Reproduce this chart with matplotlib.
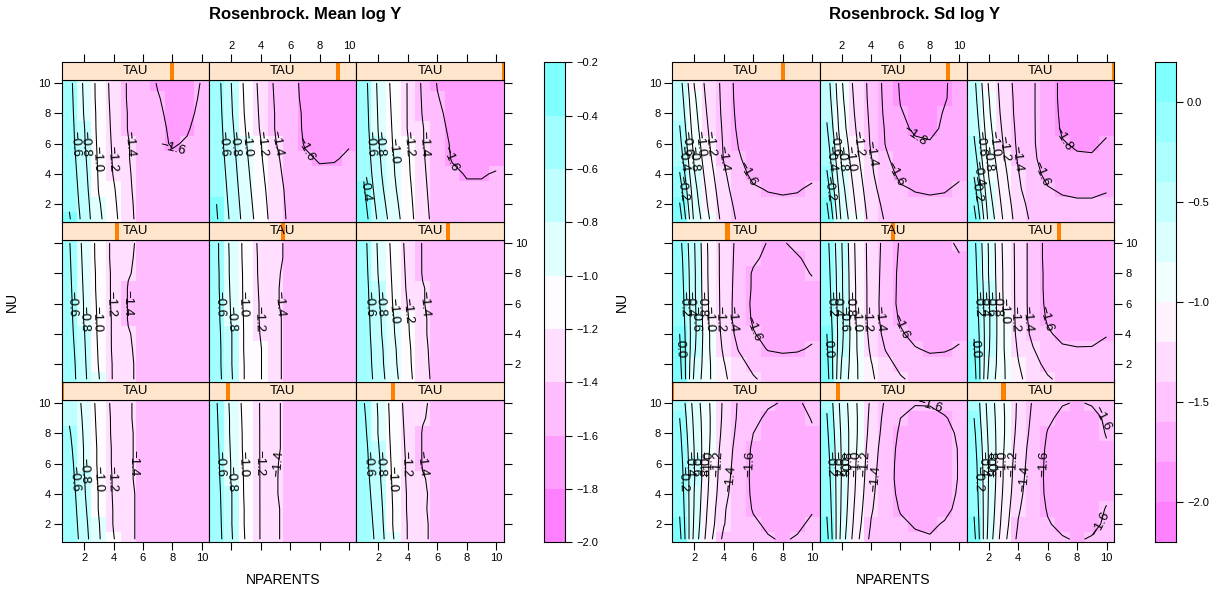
import numpy as np
import matplotlib
matplotlib.use("Agg")
import matplotlib.pyplot as plt
from matplotlib.colors import ListedColormap, BoundaryNorm
from matplotlib.patches import Rectangle

plt.rcParams['font.family'] = ['Liberation Sans', 'DejaVu Sans']
plt.rcParams['contour.negative_linestyle'] = 'solid'

# grid of the design
nparents = [1, 2, 3, 4, 5, 6, 7, 8, 9, 10]
nu = [1, 2, 3, 4, 5, 6, 7, 8, 9, 10]
# position of each TAU level inside its strip (panel order: bottom-left first)
tau_pos = [0.0, 0.125, 0.25, 0.375, 0.5, 0.625, 0.75, 0.875, 1.0]

mean_levels = [-2.0, -1.8, -1.6, -1.4, -1.2, -1.0, -0.8, -0.6, -0.4, -0.2]
sd_levels = [-2.2, -2.0, -1.8, -1.6, -1.4, -1.2, -1.0, -0.8, -0.6, -0.4, -0.2, 0.0, 0.2]
mean_cb_ticks = [-2.0, -1.8, -1.6, -1.4, -1.2, -1.0, -0.8, -0.6, -0.4, -0.2]
sd_cb_ticks = [-2.0, -1.5, -1.0, -0.5, 0.0]
axis_ticks = [2, 4, 6, 8, 10]

# tables: rows NU=10 (top) down to NU=1, columns NPARENTS 1..10
mean_tau1 = [
    [-0.66, -0.84, -1.06, -1.25, -1.38, -1.46, -1.50, -1.52, -1.53, -1.53],
    [-0.62, -0.83, -1.05, -1.24, -1.38, -1.46, -1.50, -1.52, -1.53, -1.53],
    [-0.58, -0.82, -1.04, -1.24, -1.37, -1.46, -1.50, -1.52, -1.53, -1.53],
    [-0.55, -0.81, -1.03, -1.23, -1.37, -1.46, -1.50, -1.52, -1.53, -1.53],
    [-0.52, -0.81, -1.03, -1.23, -1.37, -1.46, -1.50, -1.52, -1.53, -1.53],
    [-0.50, -0.79, -1.02, -1.22, -1.37, -1.46, -1.50, -1.52, -1.53, -1.53],
    [-0.47, -0.78, -1.01, -1.22, -1.36, -1.45, -1.50, -1.52, -1.53, -1.53],
    [-0.45, -0.76, -1.01, -1.21, -1.36, -1.45, -1.50, -1.52, -1.53, -1.53],
    [-0.43, -0.74, -0.99, -1.21, -1.36, -1.45, -1.50, -1.52, -1.53, -1.53],
    [-0.41, -0.72, -0.98, -1.19, -1.36, -1.45, -1.50, -1.52, -1.53, -1.53],
]
mean_tau2 = [
    [-0.59, -0.84, -1.08, -1.21, -1.38, -1.44, -1.48, -1.50, -1.51, -1.51],
    [-0.58, -0.83, -1.07, -1.21, -1.38, -1.44, -1.48, -1.50, -1.51, -1.51],
    [-0.57, -0.83, -1.06, -1.21, -1.38, -1.44, -1.48, -1.50, -1.51, -1.51],
    [-0.56, -0.82, -1.06, -1.21, -1.38, -1.44, -1.48, -1.50, -1.51, -1.51],
    [-0.55, -0.81, -1.05, -1.21, -1.39, -1.44, -1.48, -1.50, -1.51, -1.51],
    [-0.54, -0.81, -1.04, -1.21, -1.39, -1.45, -1.48, -1.50, -1.51, -1.51],
    [-0.53, -0.79, -1.04, -1.21, -1.39, -1.45, -1.48, -1.50, -1.51, -1.51],
    [-0.52, -0.79, -1.03, -1.21, -1.38, -1.45, -1.48, -1.50, -1.51, -1.51],
    [-0.51, -0.79, -1.03, -1.21, -1.38, -1.45, -1.48, -1.50, -1.51, -1.51],
    [-0.50, -0.78, -1.02, -1.21, -1.38, -1.45, -1.48, -1.50, -1.51, -1.51],
]
mean_tau3 = [
    [-0.59, -0.82, -1.08, -1.27, -1.38, -1.44, -1.47, -1.49, -1.50, -1.50],
    [-0.57, -0.81, -1.07, -1.26, -1.39, -1.44, -1.47, -1.49, -1.50, -1.50],
    [-0.55, -0.81, -1.06, -1.25, -1.41, -1.44, -1.47, -1.49, -1.50, -1.50],
    [-0.53, -0.79, -1.05, -1.24, -1.41, -1.44, -1.47, -1.49, -1.50, -1.50],
    [-0.52, -0.77, -1.04, -1.23, -1.41, -1.44, -1.47, -1.49, -1.50, -1.50],
    [-0.50, -0.76, -1.03, -1.23, -1.39, -1.44, -1.47, -1.49, -1.50, -1.50],
    [-0.48, -0.74, -1.02, -1.22, -1.38, -1.44, -1.47, -1.49, -1.50, -1.50],
    [-0.46, -0.72, -1.01, -1.22, -1.38, -1.45, -1.48, -1.50, -1.51, -1.51],
    [-0.44, -0.70, -1.01, -1.21, -1.37, -1.45, -1.48, -1.50, -1.51, -1.51],
    [-0.42, -0.68, -0.99, -1.21, -1.37, -1.45, -1.48, -1.50, -1.51, -1.51],
]
mean_tau4 = [
    [-0.59, -0.85, -1.06, -1.25, -1.37, -1.44, -1.47, -1.49, -1.50, -1.50],
    [-0.58, -0.84, -1.06, -1.25, -1.38, -1.44, -1.47, -1.49, -1.50, -1.50],
    [-0.57, -0.83, -1.05, -1.24, -1.39, -1.44, -1.47, -1.49, -1.50, -1.50],
    [-0.56, -0.82, -1.05, -1.24, -1.41, -1.44, -1.47, -1.49, -1.50, -1.50],
    [-0.55, -0.81, -1.04, -1.24, -1.41, -1.44, -1.47, -1.49, -1.50, -1.50],
    [-0.54, -0.81, -1.03, -1.23, -1.41, -1.44, -1.47, -1.49, -1.50, -1.50],
    [-0.53, -0.79, -1.03, -1.23, -1.39, -1.45, -1.48, -1.50, -1.51, -1.51],
    [-0.51, -0.78, -1.02, -1.23, -1.38, -1.45, -1.48, -1.50, -1.51, -1.51],
    [-0.49, -0.77, -1.01, -1.22, -1.37, -1.45, -1.48, -1.50, -1.51, -1.51],
    [-0.48, -0.76, -0.99, -1.22, -1.37, -1.45, -1.48, -1.50, -1.51, -1.51],
]
mean_tau5 = [
    [-0.56, -0.85, -1.06, -1.25, -1.38, -1.42, -1.46, -1.48, -1.49, -1.49],
    [-0.56, -0.84, -1.06, -1.24, -1.38, -1.42, -1.46, -1.48, -1.49, -1.49],
    [-0.55, -0.84, -1.05, -1.24, -1.39, -1.42, -1.46, -1.48, -1.49, -1.49],
    [-0.55, -0.83, -1.05, -1.23, -1.39, -1.43, -1.46, -1.48, -1.49, -1.49],
    [-0.54, -0.82, -1.05, -1.22, -1.39, -1.43, -1.46, -1.48, -1.49, -1.49],
    [-0.54, -0.81, -1.04, -1.22, -1.38, -1.43, -1.46, -1.48, -1.49, -1.49],
    [-0.53, -0.79, -1.04, -1.21, -1.38, -1.43, -1.46, -1.48, -1.49, -1.49],
    [-0.52, -0.79, -1.04, -1.19, -1.38, -1.43, -1.46, -1.48, -1.49, -1.49],
    [-0.52, -0.79, -1.03, -1.19, -1.38, -1.43, -1.46, -1.48, -1.49, -1.49],
    [-0.51, -0.78, -1.03, -1.19, -1.38, -1.43, -1.46, -1.48, -1.49, -1.49],
]
mean_tau6 = [
    [-0.54, -0.83, -1.05, -1.26, -1.41, -1.47, -1.50, -1.52, -1.53, -1.53],
    [-0.53, -0.82, -1.04, -1.25, -1.41, -1.47, -1.50, -1.52, -1.53, -1.53],
    [-0.52, -0.81, -1.03, -1.24, -1.41, -1.47, -1.50, -1.52, -1.53, -1.53],
    [-0.51, -0.79, -1.02, -1.23, -1.39, -1.46, -1.50, -1.52, -1.53, -1.53],
    [-0.50, -0.78, -1.01, -1.21, -1.39, -1.46, -1.49, -1.51, -1.52, -1.52],
    [-0.49, -0.76, -0.99, -1.19, -1.38, -1.45, -1.49, -1.51, -1.52, -1.52],
    [-0.48, -0.75, -0.98, -1.18, -1.38, -1.45, -1.49, -1.51, -1.52, -1.52],
    [-0.47, -0.73, -0.96, -1.16, -1.37, -1.45, -1.48, -1.50, -1.51, -1.51],
    [-0.46, -0.72, -0.95, -1.15, -1.37, -1.44, -1.48, -1.50, -1.51, -1.51],
    [-0.45, -0.70, -0.93, -1.13, -1.36, -1.44, -1.48, -1.50, -1.51, -1.51],
]
mean_tau7 = [
    [-0.54, -0.83, -1.06, -1.27, -1.42, -1.52, -1.61, -1.66, -1.67, -1.59],
    [-0.53, -0.82, -1.06, -1.26, -1.42, -1.52, -1.59, -1.65, -1.65, -1.58],
    [-0.52, -0.81, -1.05, -1.25, -1.41, -1.51, -1.58, -1.63, -1.63, -1.57],
    [-0.51, -0.79, -1.05, -1.24, -1.41, -1.51, -1.57, -1.62, -1.61, -1.56],
    [-0.50, -0.78, -1.04, -1.23, -1.39, -1.50, -1.57, -1.61, -1.59, -1.55],
    [-0.48, -0.76, -1.03, -1.22, -1.39, -1.50, -1.56, -1.58, -1.57, -1.55],
    [-0.46, -0.74, -1.02, -1.21, -1.38, -1.49, -1.55, -1.57, -1.56, -1.54],
    [-0.44, -0.72, -1.01, -1.18, -1.37, -1.49, -1.55, -1.56, -1.55, -1.54],
    [-0.42, -0.70, -0.98, -1.16, -1.36, -1.48, -1.54, -1.55, -1.55, -1.54],
    [-0.38, -0.68, -0.96, -1.14, -1.35, -1.48, -1.54, -1.55, -1.55, -1.54],
]
mean_tau8 = [
    [-0.52, -0.80, -1.05, -1.25, -1.43, -1.56, -1.63, -1.67, -1.68, -1.68],
    [-0.51, -0.79, -1.04, -1.24, -1.42, -1.55, -1.63, -1.67, -1.68, -1.68],
    [-0.50, -0.78, -1.03, -1.23, -1.41, -1.54, -1.62, -1.66, -1.67, -1.67],
    [-0.49, -0.76, -1.01, -1.22, -1.41, -1.53, -1.62, -1.65, -1.66, -1.65],
    [-0.48, -0.74, -0.99, -1.19, -1.39, -1.52, -1.61, -1.63, -1.63, -1.61],
    [-0.46, -0.72, -0.97, -1.18, -1.36, -1.50, -1.58, -1.61, -1.61, -1.58],
    [-0.44, -0.70, -0.95, -1.16, -1.34, -1.48, -1.56, -1.58, -1.57, -1.56],
    [-0.42, -0.68, -0.93, -1.14, -1.32, -1.46, -1.54, -1.56, -1.55, -1.54],
    [-0.40, -0.66, -0.91, -1.12, -1.31, -1.45, -1.53, -1.55, -1.54, -1.53],
    [-0.38, -0.64, -0.89, -1.10, -1.30, -1.44, -1.52, -1.54, -1.53, -1.52],
]
mean_tau9 = [
    [-0.52, -0.84, -1.05, -1.21, -1.43, -1.61, -1.68, -1.72, -1.73, -1.72],
    [-0.51, -0.83, -1.04, -1.21, -1.42, -1.59, -1.67, -1.71, -1.72, -1.71],
    [-0.50, -0.82, -1.03, -1.21, -1.41, -1.56, -1.66, -1.70, -1.71, -1.70],
    [-0.49, -0.81, -1.02, -1.21, -1.39, -1.54, -1.64, -1.69, -1.70, -1.69],
    [-0.47, -0.79, -1.01, -1.19, -1.39, -1.52, -1.62, -1.67, -1.68, -1.67],
    [-0.45, -0.77, -0.99, -1.18, -1.38, -1.51, -1.61, -1.65, -1.66, -1.64],
    [-0.42, -0.75, -0.98, -1.17, -1.37, -1.50, -1.57, -1.61, -1.61, -1.59],
    [-0.38, -0.72, -0.96, -1.15, -1.36, -1.49, -1.55, -1.58, -1.58, -1.57],
    [-0.34, -0.68, -0.93, -1.13, -1.35, -1.48, -1.54, -1.56, -1.56, -1.56],
    [-0.30, -0.64, -0.90, -1.11, -1.34, -1.47, -1.53, -1.55, -1.55, -1.55],
]

sd_tau1 = [
    [-0.24, -0.68, -0.99, -1.23, -1.42, -1.52, -1.58, -1.61, -1.61, -1.58],
    [-0.20, -0.65, -0.98, -1.24, -1.43, -1.56, -1.63, -1.66, -1.66, -1.59],
    [-0.16, -0.63, -0.98, -1.26, -1.45, -1.60, -1.67, -1.70, -1.69, -1.62],
    [-0.13, -0.61, -0.99, -1.29, -1.47, -1.63, -1.69, -1.72, -1.71, -1.65],
    [-0.10, -0.60, -1.01, -1.31, -1.48, -1.64, -1.70, -1.73, -1.72, -1.66],
    [-0.08, -0.59, -1.01, -1.33, -1.49, -1.64, -1.70, -1.73, -1.72, -1.66],
    [-0.05, -0.61, -1.03, -1.35, -1.50, -1.63, -1.69, -1.72, -1.70, -1.64],
    [-0.02, -0.62, -1.06, -1.38, -1.52, -1.61, -1.66, -1.69, -1.67, -1.61],
    [0.02, -0.64, -1.09, -1.39, -1.54, -1.58, -1.62, -1.64, -1.62, -1.58],
    [0.07, -0.67, -1.13, -1.45, -1.56, -1.57, -1.59, -1.61, -1.59, -1.56],
]
sd_tau2 = [
    [-0.22, -0.67, -0.99, -1.23, -1.43, -1.55, -1.59, -1.59, -1.56, -1.53],
    [-0.19, -0.65, -0.98, -1.25, -1.46, -1.60, -1.65, -1.64, -1.61, -1.56],
    [-0.16, -0.63, -0.98, -1.27, -1.48, -1.63, -1.68, -1.68, -1.64, -1.58],
    [-0.13, -0.62, -0.99, -1.30, -1.50, -1.65, -1.70, -1.70, -1.66, -1.59],
    [-0.10, -0.61, -1.01, -1.32, -1.51, -1.66, -1.71, -1.71, -1.67, -1.59],
    [-0.08, -0.61, -1.02, -1.34, -1.52, -1.66, -1.71, -1.71, -1.67, -1.59],
    [-0.05, -0.62, -1.04, -1.36, -1.52, -1.64, -1.70, -1.70, -1.66, -1.58],
    [-0.02, -0.63, -1.07, -1.38, -1.53, -1.61, -1.66, -1.67, -1.63, -1.57],
    [0.02, -0.65, -1.10, -1.41, -1.55, -1.58, -1.61, -1.62, -1.59, -1.56],
    [0.07, -0.68, -1.14, -1.45, -1.56, -1.57, -1.58, -1.59, -1.57, -1.55],
]
sd_tau3 = [
    [-0.23, -0.68, -0.99, -1.23, -1.42, -1.53, -1.59, -1.61, -1.59, -1.55],
    [-0.20, -0.66, -0.98, -1.24, -1.44, -1.57, -1.64, -1.66, -1.64, -1.58],
    [-0.16, -0.64, -0.98, -1.26, -1.46, -1.61, -1.68, -1.70, -1.68, -1.59],
    [-0.13, -0.62, -0.99, -1.29, -1.48, -1.63, -1.70, -1.72, -1.70, -1.62],
    [-0.10, -0.61, -1.01, -1.31, -1.49, -1.64, -1.71, -1.73, -1.71, -1.63],
    [-0.08, -0.61, -1.01, -1.33, -1.50, -1.64, -1.71, -1.73, -1.71, -1.64],
    [-0.05, -0.62, -1.03, -1.35, -1.51, -1.63, -1.70, -1.72, -1.70, -1.63],
    [-0.02, -0.63, -1.06, -1.38, -1.52, -1.61, -1.67, -1.69, -1.67, -1.59],
    [0.02, -0.65, -1.09, -1.41, -1.54, -1.59, -1.63, -1.65, -1.63, -1.58],
    [0.07, -0.68, -1.13, -1.45, -1.56, -1.58, -1.59, -1.61, -1.59, -1.57],
]
sd_tau4 = [
    [-0.14, -0.59, -1.05, -1.27, -1.46, -1.53, -1.61, -1.61, -1.57, -1.54],
    [-0.11, -0.58, -1.04, -1.27, -1.47, -1.57, -1.64, -1.64, -1.61, -1.57],
    [-0.09, -0.57, -1.04, -1.27, -1.48, -1.62, -1.66, -1.67, -1.65, -1.59],
    [-0.07, -0.57, -1.03, -1.27, -1.49, -1.62, -1.68, -1.69, -1.68, -1.64],
    [-0.05, -0.56, -1.02, -1.27, -1.50, -1.63, -1.69, -1.70, -1.69, -1.66],
    [-0.03, -0.55, -1.01, -1.27, -1.50, -1.62, -1.68, -1.69, -1.68, -1.65],
    [0.00, -0.55, -0.99, -1.26, -1.46, -1.59, -1.65, -1.67, -1.66, -1.62],
    [0.03, -0.57, -0.99, -1.23, -1.41, -1.53, -1.61, -1.62, -1.61, -1.59],
    [0.06, -0.61, -0.98, -1.19, -1.34, -1.45, -1.52, -1.55, -1.56, -1.55],
    [0.10, -0.65, -0.98, -1.17, -1.29, -1.38, -1.45, -1.48, -1.50, -1.50],
]
sd_tau5 = [
    [-0.14, -0.59, -1.05, -1.27, -1.47, -1.62, -1.65, -1.66, -1.63, -1.58],
    [-0.12, -0.58, -1.04, -1.27, -1.48, -1.63, -1.68, -1.69, -1.66, -1.61],
    [-0.10, -0.57, -1.03, -1.27, -1.49, -1.64, -1.70, -1.71, -1.69, -1.63],
    [-0.08, -0.57, -1.02, -1.27, -1.50, -1.64, -1.71, -1.72, -1.70, -1.65],
    [-0.06, -0.56, -1.02, -1.27, -1.51, -1.64, -1.71, -1.72, -1.70, -1.66],
    [-0.03, -0.55, -1.01, -1.27, -1.50, -1.62, -1.69, -1.71, -1.69, -1.65],
    [0.00, -0.55, -0.99, -1.26, -1.46, -1.58, -1.65, -1.67, -1.66, -1.62],
    [0.03, -0.57, -0.99, -1.23, -1.41, -1.52, -1.59, -1.62, -1.61, -1.59],
    [0.06, -0.61, -0.98, -1.19, -1.34, -1.45, -1.52, -1.55, -1.56, -1.55],
    [0.10, -0.65, -0.98, -1.17, -1.29, -1.38, -1.44, -1.48, -1.50, -1.50],
]
sd_tau6 = [
    [-0.15, -0.62, -1.04, -1.26, -1.49, -1.66, -1.70, -1.72, -1.73, -1.73],
    [-0.13, -0.61, -1.03, -1.26, -1.49, -1.66, -1.71, -1.73, -1.73, -1.73],
    [-0.11, -0.61, -1.02, -1.26, -1.49, -1.65, -1.71, -1.73, -1.73, -1.72],
    [-0.09, -0.59, -1.02, -1.26, -1.49, -1.65, -1.71, -1.73, -1.72, -1.71],
    [-0.07, -0.58, -1.01, -1.26, -1.49, -1.64, -1.70, -1.72, -1.71, -1.69],
    [-0.04, -0.57, -0.99, -1.26, -1.48, -1.62, -1.68, -1.70, -1.69, -1.66],
    [-0.01, -0.57, -0.99, -1.25, -1.45, -1.58, -1.64, -1.66, -1.65, -1.61],
    [0.02, -0.58, -0.99, -1.22, -1.39, -1.52, -1.58, -1.59, -1.59, -1.56],
    [0.06, -0.61, -0.98, -1.19, -1.34, -1.45, -1.51, -1.54, -1.54, -1.52],
    [0.10, -0.66, -0.98, -1.16, -1.29, -1.38, -1.44, -1.47, -1.48, -1.48],
]
sd_tau7 = [
    [-0.52, -1.01, -1.30, -1.44, -1.69, -1.72, -1.75, -1.76, -1.76, -1.75],
    [-0.48, -0.97, -1.28, -1.44, -1.68, -1.72, -1.75, -1.76, -1.76, -1.75],
    [-0.44, -0.94, -1.25, -1.44, -1.66, -1.72, -1.75, -1.76, -1.76, -1.74],
    [-0.39, -0.91, -1.22, -1.43, -1.64, -1.71, -1.74, -1.75, -1.75, -1.73],
    [-0.34, -0.87, -1.19, -1.42, -1.61, -1.70, -1.73, -1.74, -1.74, -1.71],
    [-0.28, -0.83, -1.16, -1.41, -1.58, -1.68, -1.71, -1.72, -1.71, -1.68],
    [-0.19, -0.79, -1.12, -1.37, -1.54, -1.64, -1.67, -1.68, -1.67, -1.63],
    [-0.09, -0.74, -1.08, -1.34, -1.50, -1.58, -1.61, -1.62, -1.61, -1.58],
    [0.01, -0.70, -1.04, -1.31, -1.46, -1.53, -1.56, -1.57, -1.57, -1.55],
    [0.11, -0.65, -0.99, -1.28, -1.43, -1.50, -1.54, -1.55, -1.55, -1.54],
]
sd_tau8 = [
    [-0.50, -0.98, -1.28, -1.45, -1.66, -1.82, -1.85, -1.86, -1.81, -1.76],
    [-0.47, -0.96, -1.26, -1.45, -1.65, -1.81, -1.85, -1.86, -1.81, -1.75],
    [-0.43, -0.93, -1.24, -1.44, -1.64, -1.79, -1.84, -1.85, -1.79, -1.74],
    [-0.38, -0.91, -1.21, -1.43, -1.62, -1.77, -1.82, -1.83, -1.78, -1.72],
    [-0.32, -0.86, -1.18, -1.42, -1.61, -1.73, -1.78, -1.79, -1.75, -1.70],
    [-0.26, -0.82, -1.15, -1.39, -1.57, -1.69, -1.73, -1.74, -1.71, -1.67],
    [-0.18, -0.78, -1.11, -1.37, -1.53, -1.64, -1.67, -1.68, -1.66, -1.62],
    [-0.09, -0.73, -1.07, -1.34, -1.49, -1.58, -1.61, -1.62, -1.61, -1.58],
    [0.01, -0.69, -1.03, -1.31, -1.45, -1.53, -1.56, -1.57, -1.57, -1.55],
    [0.11, -0.64, -0.99, -1.28, -1.42, -1.50, -1.53, -1.55, -1.55, -1.54],
]
sd_tau9 = [
    [-0.55, -1.02, -1.30, -1.47, -1.58, -1.72, -1.84, -1.88, -1.89, -1.89],
    [-0.52, -0.99, -1.29, -1.46, -1.58, -1.72, -1.84, -1.88, -1.89, -1.89],
    [-0.48, -0.97, -1.27, -1.46, -1.58, -1.72, -1.83, -1.87, -1.88, -1.88],
    [-0.43, -0.94, -1.24, -1.45, -1.58, -1.71, -1.82, -1.85, -1.86, -1.83],
    [-0.37, -0.90, -1.21, -1.44, -1.58, -1.70, -1.79, -1.82, -1.83, -1.78],
    [-0.30, -0.86, -1.18, -1.42, -1.57, -1.68, -1.75, -1.78, -1.78, -1.76],
    [-0.22, -0.81, -1.14, -1.39, -1.55, -1.64, -1.69, -1.71, -1.71, -1.69],
    [-0.12, -0.76, -1.10, -1.37, -1.51, -1.59, -1.62, -1.63, -1.63, -1.61],
    [-0.01, -0.71, -1.06, -1.33, -1.47, -1.54, -1.57, -1.58, -1.58, -1.57],
    [0.10, -0.66, -1.02, -1.30, -1.44, -1.51, -1.54, -1.55, -1.55, -1.54],
]

mean_panels = [mean_tau1, mean_tau2, mean_tau3, mean_tau4, mean_tau5,
               mean_tau6, mean_tau7, mean_tau8, mean_tau9]
sd_panels = [sd_tau1, sd_tau2, sd_tau3, sd_tau4, sd_tau5,
             sd_tau6, sd_tau7, sd_tau8, sd_tau9]

W, H = 1220, 595
TOP = 62.3     # top of the strip of the first row, px
ROWH = 160.0   # strip + panel
SH = 17.7      # strip height
PW = 147.2     # panel width


def box(x0, y0, x1, y1):
    return [x0 / W, 1 - y1 / H, (x1 - x0) / W, (y1 - y0) / H]


def fmt_num(v):
    return f"{v:.1f}".replace("-", "\u2212")


def regions_palette(n=100):
    # magenta -> white -> cyan, like lattice's default regions colours
    k = n // 2
    cols = []
    for i in range(k):
        s = 0.5 - 0.5 * i / k
        cols.append((1.0, 1.0 - s, 1.0))
    for i in range(k):
        s = 0.5 * (i + 1) / k
        cols.append((1.0 - s, 1.0, 1.0))
    return cols


palette = regions_palette()


def edges(v):
    v = np.asarray(v, dtype=float)
    return np.append(v - 0.5, v[-1] + 0.5)


def draw_chart(fig, tables, levels, cb_ticks, x0, cbar_x0, title, title_cx):
    nb = len(levels) - 1
    idx = np.floor(np.linspace(0, len(palette) - 1, nb)).astype(int)
    cmap = ListedColormap([palette[i] for i in idx])
    norm = BoundaryNorm(levels, nb)
    xe, ye = edges(nparents), edges(nu)

    for p, tab in enumerate(tables):
        Z = np.array(tab)[::-1]
        c = p % 3
        r = 2 - p // 3
        cx = x0 + c * PW
        sy = TOP + r * ROWH

        ax = fig.add_axes(box(cx, sy + SH, cx + PW, sy + ROWH))
        ax.pcolormesh(xe, ye, Z, cmap=cmap, norm=norm, shading='flat',
                      antialiased=False, linewidth=0)
        cs = ax.contour(nparents, nu, Z, levels=levels, colors='black',
                        linewidths=0.75, linestyles='solid')
        ax.clabel(cs, inline=False, fontsize=9.5, fmt=fmt_num)
        ax.set_xlim(0.5, 10.5)
        ax.set_ylim(0.8, 10.2)
        ax.set_xticks(axis_ticks)
        ax.set_yticks(axis_ticks)
        ax.tick_params(axis='x', direction='out', length=6, width=0.8,
                       labelsize=8, pad=2, top=False, labeltop=False,
                       bottom=(r == 2), labelbottom=(r == 2 and c != 1))
        ax.tick_params(axis='y', direction='out', length=6, width=0.8,
                       labelsize=8, pad=2,
                       left=(c == 0), labelleft=(c == 0 and r != 1),
                       right=(c == 2), labelright=(c == 2 and r == 1))
        for sp in ax.spines.values():
            sp.set_linewidth(0.8)

        sax = fig.add_axes(box(cx, sy, cx + PW, sy + SH))
        sax.set_facecolor('#FFE5CC')
        sax.set_xlim(0.5, 10.5)
        sax.set_ylim(0, 1)
        xm = 0.5 + 10 * tau_pos[p]
        sax.add_patch(Rectangle((xm - 0.14, 0), 0.28, 1, facecolor='#FF7F00',
                                edgecolor='none'))
        sax.text(5.5, 0.5, 'TAU', ha='center', va='center', fontsize=9.5)
        sax.set_yticks([])
        if r == 0:
            sax.set_xticks(axis_ticks)
            sax.tick_params(axis='x', direction='out', length=6, width=0.8,
                            labelsize=8, pad=2, bottom=False, labelbottom=False,
                            top=True, labeltop=(c == 1))
        else:
            sax.set_xticks([])
        for sp in sax.spines.values():
            sp.set_linewidth(0.8)

    cax = fig.add_axes(box(cbar_x0, TOP, cbar_x0 + 21, TOP + 3 * ROWH))
    mids = (np.array(levels[:-1]) + np.array(levels[1:])) / 2
    cax.pcolormesh([0, 1], levels, mids.reshape(-1, 1), cmap=cmap, norm=norm,
                   antialiased=False, linewidth=0)
    cax.set_xlim(0, 1)
    cax.set_ylim(levels[0], levels[-1])
    cax.set_xticks([])
    cax.yaxis.tick_right()
    cax.set_yticks(cb_ticks)
    cax.set_yticklabels([fmt_num(v) for v in cb_ticks])
    cax.tick_params(axis='y', direction='out', length=5, width=0.8,
                    labelsize=8, pad=3)
    for sp in cax.spines.values():
        sp.set_linewidth(0.8)

    fig.text(title_cx / W, 1 - 14 / H, title, ha='center', va='center',
             fontsize=12, fontweight='bold')
    fig.text((x0 - 50) / W, 1 - (TOP + 1.5 * ROWH) / H, 'NU', rotation=90,
             ha='center', va='center', fontsize=10)
    fig.text((x0 + 1.5 * PW) / W, 1 - 580 / H, 'NPARENTS', ha='center',
             va='center', fontsize=10)


fig = plt.figure(figsize=(12.2, 5.95), dpi=100)
draw_chart(fig, mean_panels, mean_levels, mean_cb_ticks, 62.0, 544.0,
           'Rosenbrock. Mean log Y', 305)
draw_chart(fig, sd_panels, sd_levels, sd_cb_ticks, 672.3, 1155.0,
           'Rosenbrock. Sd log Y', 915)
fig.savefig('out.png', dpi=100)
